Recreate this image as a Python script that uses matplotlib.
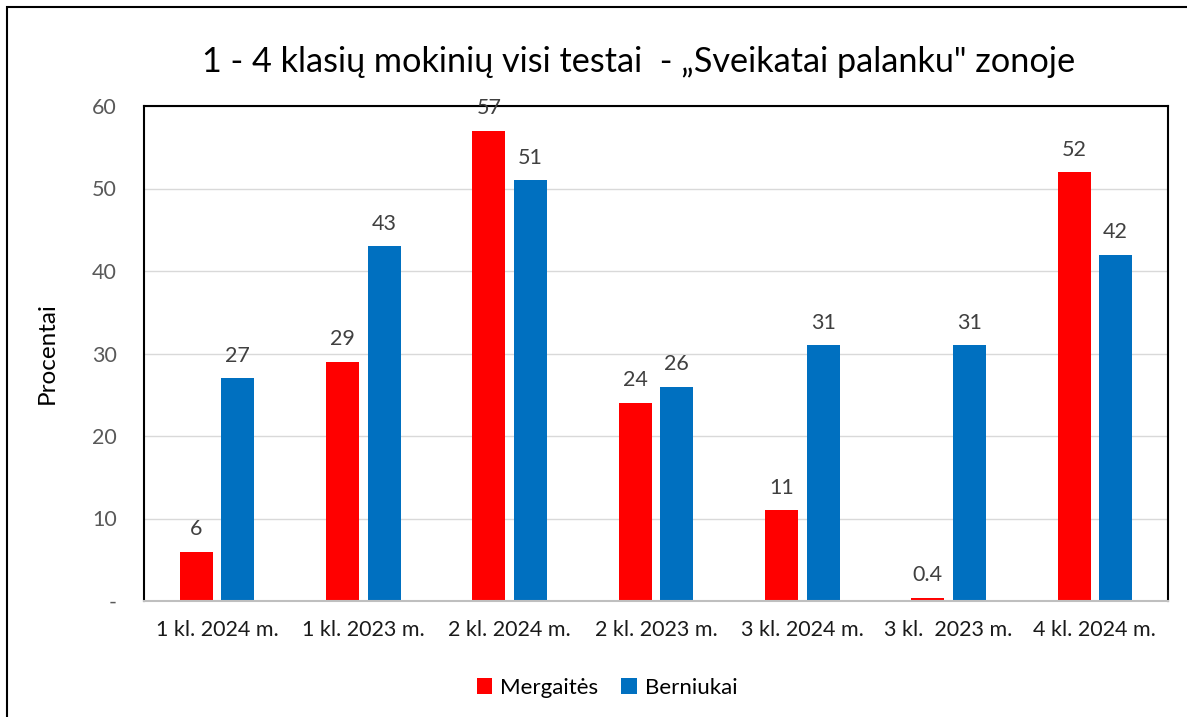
import matplotlib
matplotlib.use("Agg")
import matplotlib.pyplot as plt
import numpy as np
from matplotlib.patches import Rectangle

plt.rcParams['font.family'] = ['Lato', 'DejaVu Sans']

categories = ["1 kl. 2024 m.", "1 kl. 2023 m.", "2 kl. 2024 m.", "2 kl. 2023 m.",
              "3 kl. 2024 m.", "3 kl.  2023 m.", "4 kl. 2024 m."]
mergaites = [6, 29, 57, 24, 11, 0.4, 52]
berniukai = [27, 43, 51, 26, 31, 31, 42]
yticks = [0, 10, 20, 30, 40, 50, 60]
ytick_labels = ["-", "10", "20", "30", "40", "50", "60"]
title = "1 - 4 klasių mokinių visi testai  - „Sveikatai palanku\" zonoje"

fig = plt.figure(figsize=(11.87, 7.17), dpi=100)
ax = fig.add_axes([144/1187, 1-601/717, (1168-144)/1187, (601-106)/717])

x = np.arange(len(categories))
w = 0.225
off = 0.142
b1 = ax.bar(x - off, mergaites, w, color="#FF0000", label="Mergaitės", zorder=3)
b2 = ax.bar(x + off, berniukai, w, color="#0070C0", label="Berniukai", zorder=3)

for bars, vals in ((b1, mergaites), (b2, berniukai)):
    for r, v in zip(bars, vals):
        ax.annotate(f"{v:g}", (r.get_x() + r.get_width()/2, r.get_height()),
                    xytext=(0, 9), textcoords="offset points", ha="center", va="bottom",
                    fontsize=15.5, color="#404040")

ax.set_xlim(-0.5, len(categories) - 0.5)
ax.set_ylim(0, 60)
ax.set_yticks(yticks)
ax.set_yticklabels(ytick_labels)
ax.set_xticks(x)
ax.set_xticklabels(categories)
ax.tick_params(axis="y", length=0, labelsize=15.5, labelcolor="#595959", pad=19.5)
ax.tick_params(axis="x", length=0, labelsize=15.5, labelcolor="#1a1a1a", pad=14)
ax.yaxis.grid(True, color="#D9D9D9", linewidth=1, zorder=0)
ax.set_axisbelow(True)
for s in ("left", "top", "right"):
    ax.spines[s].set_color("black")
    ax.spines[s].set_linewidth(1.5)
ax.spines["bottom"].set_color("#BFBFBF")
ax.spines["bottom"].set_linewidth(1.5)
ax.spines["bottom"].set_zorder(4)

ax.set_ylabel("Procentai", fontsize=17.5, color="black")
ax.yaxis.set_label_coords(-86/1024, 0.5)

fig.text(639/1187, 1-62/717, title, ha="center", va="center", fontsize=24.7, color="black")

ax.legend(loc="center", bbox_to_anchor=(607/1187, 1-688/717), bbox_transform=fig.transFigure,
          ncol=2, frameon=False, fontsize=16, handlelength=0.7, handleheight=0.7,
          handletextpad=0.35, columnspacing=1.05)

# outer frame (top and left edges visible)
fig.add_artist(Rectangle((7/1187, -0.1), 1.2, 1 - 7/717 + 0.1, transform=fig.transFigure,
                         fill=False, edgecolor="black", linewidth=1.5))

fig.savefig("out.png", dpi=100)
